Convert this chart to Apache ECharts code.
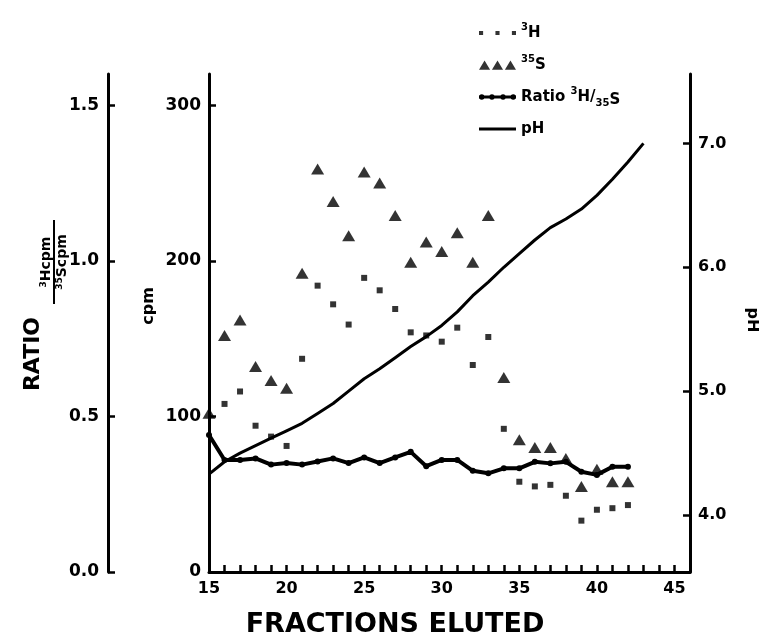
<!DOCTYPE html>
<html>
<head>
<meta charset="utf-8">
<script src="https://cdn.jsdelivr.net/npm/echarts@6/dist/echarts.min.js"></script>
<style>
html, body { margin: 0; padding: 0; background: #fff; }
#chart { width: 759px; height: 640px; }
</style>
</head>
<body>
<div id="chart"></div>
<script>
// data
const fractionsS35 = [15,16,17,18,19,20,21,22,23,24,25,26,27,28,29,30,31,32,33,34,35,36,37,38,39,40,41,42];
const s35Cpm = [102,152,162,132,123,118,192,259,238,216,257,250,229,199,212,206,218,199,229,125,85,80,80,73,55,66,58,58];

const fractionsH3 = [16,17,18,19,20,21,22,23,24,25,26,27,28,29,30,31,32,33,34,35,36,37,38,39,40,41,42];
const h3Cpm = [108,116,94,87,81,137,184,172,159,189,181,169,154,152,148,157,133,151,92,58,55,56,49,33,40,41,43];

const fractionsRatio = [15,16,17,18,19,20,21,22,23,24,25,26,27,28,29,30,31,32,33,34,35,36,37,38,39,40,41,42];
const ratioValues = [0.44,0.36,0.36,0.365,0.345,0.35,0.345,0.355,0.365,0.35,0.368,0.35,0.368,0.386,0.34,0.36,0.36,0.325,0.317,0.333,0.333,0.354,0.349,0.354,0.322,0.312,0.338,0.338];

const fractionsPH = [15,16,17,18,19,20,21,22,23,24,25,26,27,28,29,30,31,32,33,34,35,36,37,38,39,40,41,42,43];
const phValues = [4.33,4.43,4.50,4.56,4.62,4.68,4.74,4.82,4.90,5.00,5.10,5.18,5.27,5.36,5.44,5.53,5.64,5.77,5.88,6.00,6.11,6.22,6.32,6.39,6.47,6.58,6.71,6.85,7.00];

const ratioTicks = [0, 0.5, 1.0, 1.5];
const cpmTicks = [0, 100, 200, 300];
const phTicks = [4, 5, 6, 7];
const fractionLabels = [15, 20, 25, 30, 35, 40, 45];

const FONT = 'DejaVu Sans';

function pairs(xs, ys) {
    return xs.map(function (x, i) { return [x, ys[i]]; });
}

const chart = echarts.init(document.getElementById('chart'));

const axisLine = { show: true, lineStyle: { color: '#000', width: 3 } };
const tickStyle = { color: '#000', width: 2.5 };
const labelBase = { color: '#000', fontFamily: FONT, fontWeight: 'bold', fontSize: 17 };

const legendNames = {
    h3: '{sup|3}H',
    s35: '{sup|35}S',
    ratio: 'Ratio {sup|3}H/{sub|35}{low|S}',
    ph: 'pH'
};

// circle sub-path, clockwise so it unions with the bar
function dot(cx, cy, r) {
    return 'M' + (cx - r) + ',' + cy + 'a' + r + ',' + r + ' 0 1,1 ' + (2 * r) + ',0' +
        'a' + r + ',' + r + ' 0 1,1 ' + (-2 * r) + ',0Z';
}

const option = {
    animation: false,
    backgroundColor: '#fff',
    textStyle: { fontFamily: FONT, fontWeight: 'bold', color: '#000' },
    grid: { left: 209, right: 69, top: 74, bottom: 68 },
    legend: {
        orient: 'vertical',
        left: 474,
        top: 17,
        itemGap: 10,
        itemWidth: 37,
        itemHeight: 10,
        data: [
            { name: 'h3', icon: 'path://M0,0h4v4h-4z M16,0h4v4h-4z M32,0h4v4h-4z' },
            { name: 's35', icon: 'path://M0,10L6,0L12,10Z M14,10L20,0L26,10Z M28,10L34,0L40,10Z' },
            { name: 'ratio', icon: 'path://M0,4.5H40V7.5H0Z ' + dot(3, 6, 3) + dot(14, 6, 3) + dot(26, 6, 3) + dot(37, 6, 3) },
            { name: 'ph', icon: 'path://M0,0H40V3H0Z' }
        ],
        formatter: function (name) { return legendNames[name]; },
        textStyle: {
            fontFamily: FONT, fontWeight: 'bold', fontSize: 15, color: '#000', lineHeight: 22,
            rich: {
                sup: { fontFamily: FONT, fontWeight: 'bold', fontSize: 10, verticalAlign: 'top', lineHeight: 12 },
                sub: { fontFamily: FONT, fontWeight: 'bold', fontSize: 10, verticalAlign: 'bottom', lineHeight: 12 },
                low: { fontFamily: FONT, fontWeight: 'bold', fontSize: 15, verticalAlign: 'bottom', lineHeight: 16 }
            }
        }
    },
    xAxis: {
        type: 'value',
        min: 15,
        max: 46,
        interval: 1,
        axisLine: axisLine,
        axisTick: { show: true, inside: true, length: 7, lineStyle: tickStyle },
        axisLabel: Object.assign({}, labelBase, { fontSize: 16, margin: 9, customValues: fractionLabels }),
        splitLine: { show: false }
    },
    yAxis: [
        {
            // ratio axis, left of the cpm axis
            type: 'value',
            min: 0,
            max: 1.6,
            position: 'left',
            offset: 101,
            axisLine: axisLine,
            axisTick: { show: true, inside: true, length: 7, lineStyle: tickStyle, customValues: ratioTicks },
            axisLabel: Object.assign({}, labelBase, {
                margin: 9, customValues: ratioTicks,
                formatter: function (v) { return v.toFixed(1); }
            }),
            splitLine: { show: false }
        },
        {
            type: 'value',
            min: 0,
            max: 320,
            position: 'left',
            axisLine: axisLine,
            axisTick: { show: true, inside: true, length: 7, lineStyle: tickStyle, customValues: cpmTicks },
            axisLabel: Object.assign({}, labelBase, { margin: 8, customValues: cpmTicks }),
            splitLine: { show: false }
        },
        {
            type: 'value',
            min: 3.54,
            max: 7.56,
            position: 'right',
            axisLine: axisLine,
            axisTick: { show: true, inside: true, length: 7, lineStyle: tickStyle, customValues: phTicks },
            axisLabel: Object.assign({}, labelBase, {
                fontSize: 16, margin: 8, customValues: phTicks,
                formatter: function (v) { return v.toFixed(1); }
            }),
            splitLine: { show: false }
        }
    ],
    graphic: [
        {
            type: 'group',
            x: 22,
            y: 354,
            rotation: Math.PI / 2,
            children: [
                { type: 'text', x: 0, y: 0, style: { text: 'RATIO', fontFamily: FONT, fontWeight: 'bold', fontSize: 22, fill: '#000', align: 'center', verticalAlign: 'top' } },
                {
                    type: 'text', x: 92, y: 31,
                    style: {
                        text: '{s|3}Hcpm', fontFamily: FONT, fontWeight: 'bold', fontSize: 14, fill: '#000', align: 'center', verticalAlign: 'bottom',
                        rich: { s: { fontFamily: FONT, fontWeight: 'bold', fontSize: 9, verticalAlign: 'top', lineHeight: 10 } }
                    }
                },
                { type: 'line', shape: { x1: 50, y1: 32, x2: 134, y2: 32 }, style: { stroke: '#000', lineWidth: 2 } },
                {
                    type: 'text', x: 92, y: 33,
                    style: {
                        text: '{s|35}Scpm', fontFamily: FONT, fontWeight: 'bold', fontSize: 14, fill: '#000', align: 'center', verticalAlign: 'top',
                        rich: { s: { fontFamily: FONT, fontWeight: 'bold', fontSize: 9, verticalAlign: 'top', lineHeight: 10 } }
                    }
                }
            ]
        },
        {
            type: 'text', x: 149, y: 306, rotation: Math.PI / 2,
            style: { text: 'cpm', fontFamily: FONT, fontWeight: 'bold', fontSize: 16, fill: '#000', align: 'center', verticalAlign: 'middle' }
        },
        {
            type: 'text', x: 752, y: 320, rotation: -Math.PI / 2,
            style: { text: 'pH', fontFamily: FONT, fontWeight: 'bold', fontSize: 16, fill: '#000', align: 'center', verticalAlign: 'middle' }
        },
        {
            type: 'text', x: 395, y: 625,
            style: { text: 'FRACTIONS ELUTED', fontFamily: FONT, fontWeight: 'bold', fontSize: 27, fill: '#000', align: 'center', verticalAlign: 'middle' }
        }
    ],
    series: [
        {
            name: 'h3',
            type: 'scatter',
            xAxisIndex: 0,
            yAxisIndex: 1,
            symbol: 'rect',
            symbolSize: 6,
            itemStyle: { color: '#000' },
            data: pairs(fractionsH3, h3Cpm)
        },
        {
            name: 's35',
            type: 'scatter',
            xAxisIndex: 0,
            yAxisIndex: 1,
            symbol: 'triangle',
            symbolSize: [13, 11],
            itemStyle: { color: '#000' },
            data: pairs(fractionsS35, s35Cpm)
        },
        {
            name: 'ratio',
            type: 'line',
            xAxisIndex: 0,
            yAxisIndex: 0,
            symbol: 'circle',
            symbolSize: 6,
            showSymbol: true,
            itemStyle: { color: '#000' },
            lineStyle: { color: '#000', width: 4 },
            data: pairs(fractionsRatio, ratioValues)
        },
        {
            name: 'ph',
            type: 'line',
            xAxisIndex: 0,
            yAxisIndex: 2,
            symbol: 'none',
            itemStyle: { color: '#000' },
            lineStyle: { color: '#000', width: 3 },
            data: pairs(fractionsPH, phValues)
        }
    ]
};

chart.setOption(option);
</script>
</body>
</html>
